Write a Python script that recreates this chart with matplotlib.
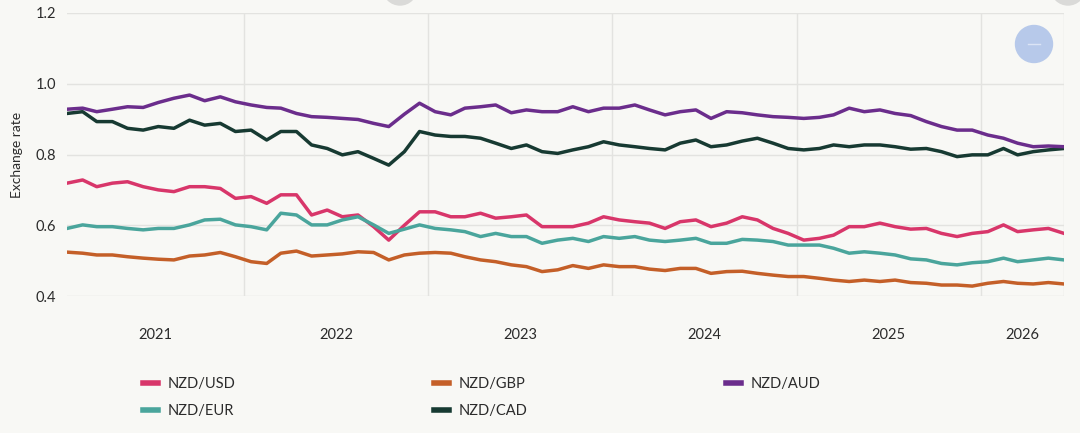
import numpy as np
import pandas as pd
import matplotlib
matplotlib.use("Agg")
import matplotlib.pyplot as plt
import matplotlib.dates as mdates
from matplotlib.patches import Ellipse
from matplotlib.lines import Line2D

# monthly readings, Jan 2021 .. Jun 2026 (mid-month)
dates = pd.date_range("2021-01-01", "2026-06-01", freq="MS") + pd.Timedelta(days=14)

nzd_usd = [0.719, 0.728, 0.709, 0.719, 0.723, 0.709, 0.700, 0.695, 0.709, 0.709, 0.704,
           0.676, 0.681, 0.662, 0.686, 0.686, 0.629, 0.643, 0.624, 0.629, 0.596, 0.558,
           0.600, 0.638, 0.638, 0.624, 0.624, 0.634, 0.620, 0.624, 0.629, 0.596, 0.596,
           0.596, 0.606, 0.624, 0.615, 0.610, 0.606, 0.591, 0.610, 0.615, 0.596, 0.606,
           0.624, 0.615, 0.591, 0.577, 0.558, 0.563, 0.572, 0.596, 0.596, 0.606, 0.596,
           0.589, 0.591, 0.577, 0.568, 0.577, 0.582, 0.601, 0.582, 0.587, 0.591, 0.577]
nzd_eur = [0.591, 0.601, 0.596, 0.596, 0.591, 0.587, 0.591, 0.591, 0.601, 0.615, 0.617,
           0.601, 0.596, 0.587, 0.634, 0.629, 0.601, 0.601, 0.615, 0.624, 0.601, 0.577,
           0.589, 0.601, 0.591, 0.587, 0.582, 0.568, 0.577, 0.568, 0.568, 0.549, 0.558,
           0.563, 0.554, 0.568, 0.563, 0.568, 0.558, 0.554, 0.558, 0.563, 0.549, 0.549,
           0.560, 0.558, 0.554, 0.544, 0.544, 0.544, 0.535, 0.521, 0.525, 0.521, 0.516,
           0.505, 0.502, 0.492, 0.488, 0.494, 0.497, 0.507, 0.497, 0.502, 0.507, 0.502]
nzd_gbp = [0.524, 0.521, 0.516, 0.516, 0.511, 0.507, 0.504, 0.502, 0.513, 0.516, 0.523,
           0.511, 0.497, 0.492, 0.521, 0.527, 0.513, 0.516, 0.519, 0.525, 0.523, 0.502,
           0.516, 0.521, 0.523, 0.521, 0.511, 0.502, 0.497, 0.488, 0.483, 0.469, 0.474,
           0.486, 0.478, 0.488, 0.483, 0.483, 0.476, 0.472, 0.478, 0.478, 0.464, 0.469,
           0.470, 0.464, 0.459, 0.455, 0.455, 0.450, 0.445, 0.441, 0.445, 0.441, 0.445,
           0.438, 0.436, 0.431, 0.431, 0.428, 0.436, 0.441, 0.436, 0.434, 0.438, 0.434]
nzd_cad = [0.916, 0.921, 0.893, 0.893, 0.874, 0.869, 0.879, 0.874, 0.897, 0.883, 0.888,
           0.865, 0.869, 0.841, 0.865, 0.865, 0.827, 0.817, 0.799, 0.808, 0.789, 0.770,
           0.808, 0.865, 0.855, 0.851, 0.851, 0.846, 0.832, 0.817, 0.827, 0.808, 0.803,
           0.813, 0.822, 0.836, 0.827, 0.822, 0.817, 0.813, 0.832, 0.841, 0.822, 0.827,
           0.838, 0.846, 0.832, 0.817, 0.813, 0.817, 0.827, 0.822, 0.827, 0.827, 0.822,
           0.815, 0.817, 0.808, 0.794, 0.799, 0.799, 0.817, 0.799, 0.808, 0.813, 0.817]
nzd_aud = [0.928, 0.931, 0.921, 0.928, 0.935, 0.933, 0.947, 0.959, 0.968, 0.952, 0.963,
           0.949, 0.940, 0.933, 0.931, 0.916, 0.907, 0.905, 0.902, 0.899, 0.888, 0.879,
           0.914, 0.945, 0.921, 0.912, 0.931, 0.935, 0.940, 0.918, 0.926, 0.921, 0.921,
           0.935, 0.921, 0.931, 0.931, 0.940, 0.926, 0.912, 0.921, 0.926, 0.902, 0.921,
           0.918, 0.912, 0.907, 0.905, 0.902, 0.905, 0.912, 0.931, 0.921, 0.926, 0.916,
           0.910, 0.893, 0.879, 0.869, 0.869, 0.855, 0.846, 0.832, 0.822, 0.824, 0.822]

series = [("NZD/USD", nzd_usd, "#d8366a"),
          ("NZD/EUR", nzd_eur, "#4aa59c"),
          ("NZD/GBP", nzd_gbp, "#c45f28"),
          ("NZD/CAD", nzd_cad, "#173a32"),
          ("NZD/AUD", nzd_aud, "#6b2d8c")]

years = ["2021", "2022", "2023", "2024", "2025", "2026"]
yticks = [0.4, 0.6, 0.8, 1.0, 1.2]

bg = "#f8f8f5"
grid_c = "#e3e3e0"
text_c = "#2b2b2b"
plt.rcParams['font.family'] = ['Lato', 'DejaVu Sans']

fig = plt.figure(figsize=(10.8, 4.33), dpi=100, facecolor=bg)
ax = fig.add_axes([67 / 1080, 1 - 296 / 433, (1064 - 67) / 1080, (296 - 13) / 433])
ax.set_facecolor(bg)

for name, vals, col in series:
    ax.plot(dates, vals, color=col, lw=2.5, label=name, solid_joinstyle="round")

x0, x1 = dates[0], dates[-1]
ax.set_xlim(x0, x1)
ax.set_ylim(0.4, 1.2)

# gridlines
for v in yticks:
    ax.axhline(v, color=grid_c, lw=1, zorder=0)
for y in years[1:]:
    ax.axvline(pd.Timestamp(f"{y}-01-01"), color=grid_c, lw=1, zorder=0)
ax.axvline(x1, color=grid_c, lw=1, zorder=0)

# year labels centred on the visible part of each year
pos = []
for y in years:
    a = max(pd.Timestamp(f"{y}-01-01"), x0)
    b = min(pd.Timestamp(f"{int(y) + 1}-01-01"), x1)
    pos.append(a + (b - a) / 2)
ax.set_xticks(pos)
ax.set_xticklabels(years)
ax.set_yticks(yticks)
ax.set_yticklabels([f"{v:.1f}" for v in yticks])
ax.tick_params(length=0, labelsize=10.5, colors=text_c)
ax.tick_params(axis="x", pad=23)
ax.tick_params(axis="y", pad=8)
ax.set_ylabel("Exchange rate", fontsize=10, color=text_c, labelpad=9)
for s in ax.spines.values():
    s.set_visible(False)

# legend below
order = ["NZD/USD", "NZD/EUR", "NZD/GBP", "NZD/CAD", "NZD/AUD"]
cols = {n: c for n, _, c in series}
handles = [Line2D([], [], color=cols[n], lw=4) for n in order]
fig.legend(handles, order, loc="upper left", bbox_to_anchor=(136 / 1080, 1 - 370 / 433),
           ncol=3, frameon=False, fontsize=10.5, handlelength=1.0, handletextpad=0.7,
           columnspacing=13.6, labelspacing=0.85, borderpad=0, labelcolor=text_c)

# interface buttons in the corner of the screenshot
fig.patches.append(Ellipse((1034 / 1080, 1 - 44 / 433), 37 / 1080, 37 / 433,
                           transform=fig.transFigure, color="#b7c9ea", zorder=5))
fig.lines.append(Line2D([1028 / 1080, 1040 / 1080], [1 - 44 / 433] * 2,
                        transform=fig.transFigure, color="#dbe4f5", lw=1, zorder=6))
for cx in (400, 1068):
    fig.patches.append(Ellipse((cx / 1080, 1 + 12 / 433), 34 / 1080, 34 / 433,
                               transform=fig.transFigure, color="#dadad8", zorder=5))

fig.savefig("out.png", dpi=100, facecolor=bg)
